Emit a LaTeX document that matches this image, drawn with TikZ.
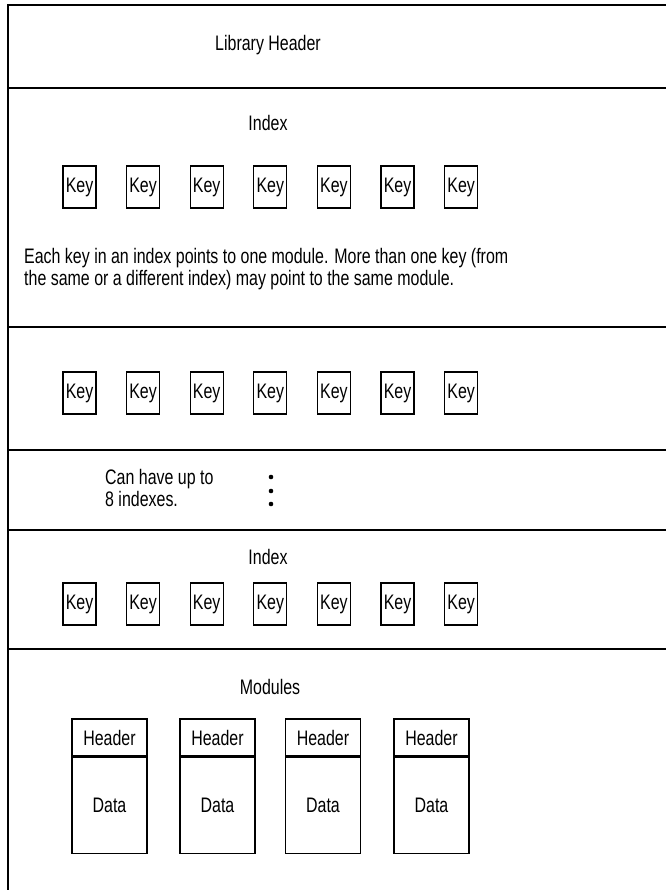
\documentclass[tikz,border=0pt]{standalone}
\usepackage{fontspec}
\setmainfont{Liberation Sans}[FakeStretch=0.76]

\tikzset{
    frame/.style = {line width=1.5pt},
    keybox/.style = {draw, line width=1.2pt, minimum width=33pt, minimum height=42pt, inner sep=0pt},
    hdrbox/.style = {draw, line width=1.2pt, minimum width=75pt, minimum height=37pt, inner sep=0pt},
    databox/.style = {draw, line width=1.2pt, minimum width=75pt, minimum height=96pt, inner sep=0pt}
}

\begin{document}
\begin{tikzpicture}[x=1pt, y=-1pt, font=\fontsize{21}{22}\selectfont]
    \useasboundingbox (0,0) rectangle (665,890);

    % Draw outer frame and the section lines
    \draw[frame] (680,5) -- (8,5) -- (8,900);
    \foreach \y in {88,327,450,530,649}
        \draw[frame] (8,\y) -- (680,\y);

    % Library header
    \node[anchor=base] (libhdr) at (268,51) {Library Header};

    % First index
    \node[anchor=base] (idx1) at (268,131) {Index};
    \foreach \i in {0,...,6}
        \node[keybox] (ka\i) at (79.5+63.6*\i,187) {Key};
    \node[anchor=base west, align=left, inner sep=0pt] (note) at (24,285)
        {Each key in an index points to one module. More than one key (from\\
         the same or a different index) may point to the same module.};

    % Second index
    \foreach \i in {0,...,6}
        \node[keybox] (kb\i) at (79.5+63.6*\i,393) {Key};

    % More indexes
    \node[anchor=base west, align=left, inner sep=0pt] (more) at (105,506)
        {Can have up to\\8 indexes.};
    \foreach \y in {477,491,504}
        \fill (271,\y) circle (2.3pt);

    % Last index
    \node[anchor=base] (idx2) at (268,564) {Index};
    \foreach \i in {0,...,6}
        \node[keybox] (kc\i) at (79.5+63.6*\i,604) {Key};

    % Modules
    \node[anchor=base] (mods) at (270,694) {Modules};
    \foreach \x [count=\i] in {109.5,217.5,323,431.5} {
        \node[hdrbox] (h\i) at (\x,737.5) {Header};
        \node[databox, anchor=north] (d\i) at (h\i.south) {Data};
    }
\end{tikzpicture}
\end{document}
